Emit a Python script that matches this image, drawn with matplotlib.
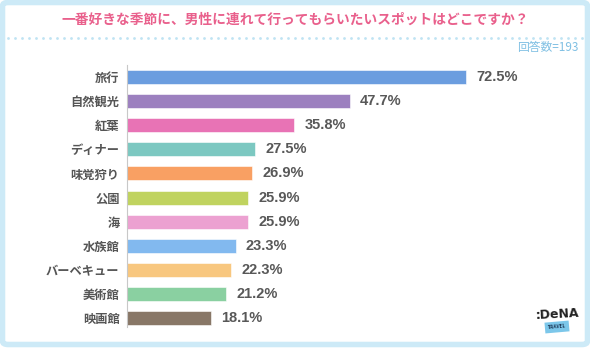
import matplotlib.pyplot as plt
from matplotlib.patches import FancyBboxPatch

plt.rcParams['font.family'] = ['Noto Sans CJK JP', 'DejaVu Sans']

categories = ["旅行", "自然観光", "紅葉", "ディナー", "味覚狩り", "公園", "海",
              "水族館", "バーベキュー", "美術館", "映画館"]
values = [72.5, 47.7, 35.8, 27.5, 26.9, 25.9, 25.9, 23.3, 22.3, 21.2, 18.1]
colors = ["#6b9ddf", "#9c80bf", "#e873b5", "#7cc8c1", "#f9a063", "#c0d35f",
          "#eca1d1", "#82b9ef", "#f8c77f", "#8ad0a1", "#887767"]
title = "一番好きな季節に、男性に連れて行ってもらいたいスポットはどこですか？"
n_label = "回答数=193"

W, H = 590, 349
fig = plt.figure(figsize=(W / 100, H / 100), dpi=100)
fig.patch.set_facecolor("white")

# light blue frame behind everything
frame = FancyBboxPatch((2.5 / W, 4.5 / H), 1 - 5 / W, 1 - 7 / H,
                       boxstyle="round,pad=0,rounding_size=0.01",
                       transform=fig.transFigure, facecolor="white",
                       edgecolor="#cdeaf7", linewidth=4, zorder=-10)
fig.patches.append(frame)

fig.text(295 / W, 1 - 20 / H, title, ha="center", va="center", fontsize=9.9,
         fontweight="bold", color="#e9608c")

# dotted separator
dot_x = [x / W for x in range(8, 585, 7)]
fig.lines.append(plt.Line2D(dot_x, [1 - 38 / H] * len(dot_x), transform=fig.transFigure,
                            linestyle="none", marker="o", markersize=2.0,
                            color="#bfe3f3", markeredgewidth=0))

fig.text(578 / W, 1 - 48 / H, n_label, ha="right", va="center", fontsize=8.5,
         color="#80c0e3")

left, top, bottom = 126.5, 65, 327
ax = fig.add_axes([left / W, 1 - bottom / H, 468 / W, (bottom - top) / H])
y = list(range(len(categories)))
ax.barh(y, values, height=0.58, color=colors, edgecolor="white", linewidth=0.4)
ax.set_xlim(0, 100)
ax.set_ylim(len(categories) - 0.63, -0.5)
ax.set_yticks(y)
ax.set_yticklabels(categories, fontsize=8.8, fontweight="bold", color="#555555")
ax.tick_params(axis="y", length=0, pad=5)
ax.set_xticks([])
for s in ["top", "right", "bottom"]:
    ax.spines[s].set_visible(False)
ax.spines["left"].set_color("#c8c8c8")
ax.spines["left"].set_linewidth(0.8)
ax.patch.set_alpha(0)

for yi, v in zip(y, values):
    ax.annotate(f"{v}%", (v, yi), xytext=(7.5, 0), textcoords="offset points",
                ha="left", va="center", fontsize=10.5, fontweight="bold",
                color="#585858", family=["Liberation Sans", "DejaVu Sans"])

# logo in the lower right corner
fig.text(557 / W, 1 - 327 / H, "TRAVEL", ha="center", va="center", fontsize=3.5,
         fontweight="bold", color="#1f3b5a", rotation=5,
         bbox=dict(boxstyle="square,pad=0.6", facecolor="#7cc7ea", edgecolor="none"))
fig.text(557 / W, 1 - 314 / H, ":DeNA", ha="center", va="center", fontsize=9,
         fontweight="bold", color="#222222", family=["DejaVu Sans"], rotation=3)

fig.savefig("out.png", dpi=100)
